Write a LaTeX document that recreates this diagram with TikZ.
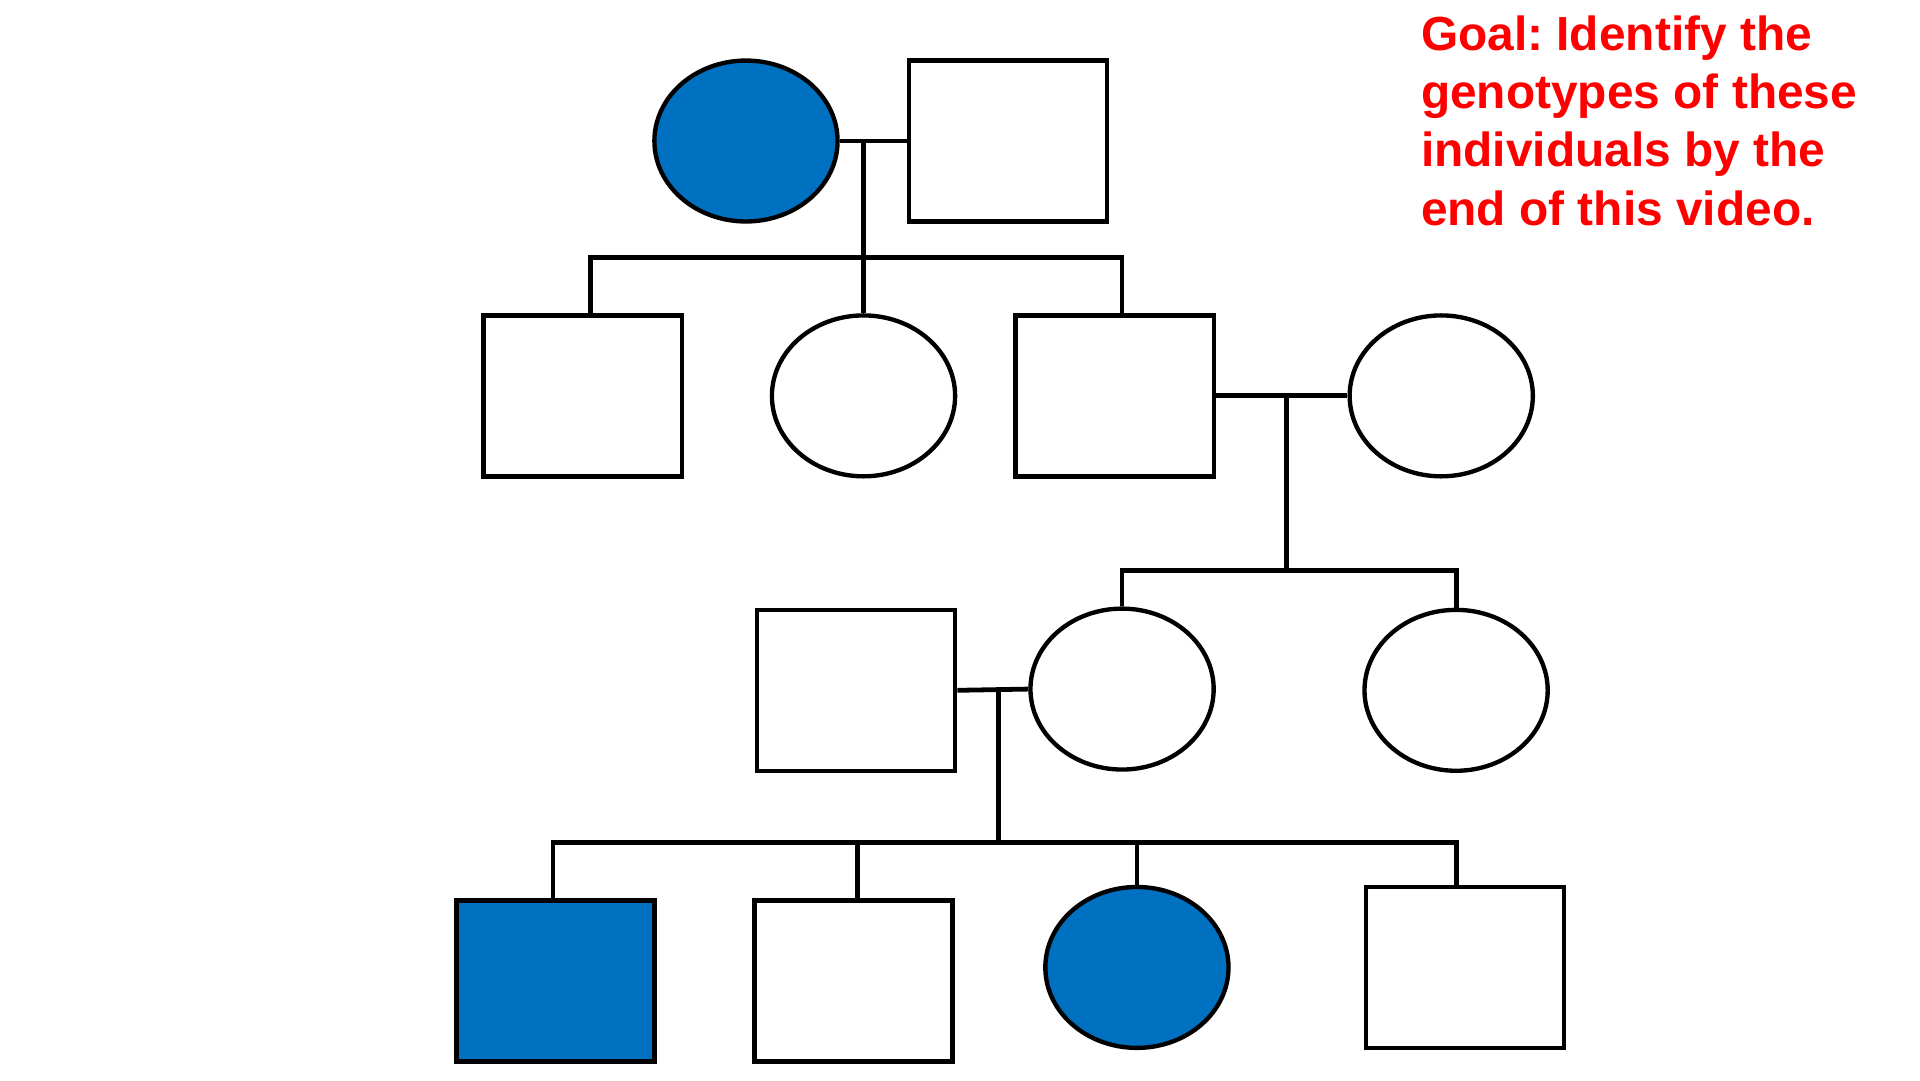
\documentclass[tikz,border=0pt]{standalone}
\usepackage{fontspec}
\setmainfont{Liberation Sans}
\usetikzlibrary{shapes.geometric}
\definecolor{affblue}{HTML}{0070C0}
\tikzset{
  male/.style={draw, rectangle, line width=1pt, minimum width=1.6cm, minimum height=1.3cm, inner sep=0pt},
  female/.style={draw, ellipse, line width=1pt, minimum width=1.48cm, minimum height=1.3cm, inner sep=0pt},
  affected/.style={fill=affblue},
  link/.style={line width=1.1pt}
}
\frenchspacing
\begin{document}
\begin{tikzpicture}[x=0.01cm, y=-0.01cm]
            \useasboundingbox (0,0) rectangle (1552,873);
            % generation 1
            \node[female, affected] (g1f) at (603,114) {};
            \node[male] (g1m) at (815,114) {};
            % generation 2
            \node[male] (g2a) at (471,320) {};
            \node[female] (g2b) at (698,320) {};
            \node[male] (g2c) at (901,320) {};
            \node[female] (g2d) at (1165,320) {};
            % generation 3
            \node[male] (g3a) at (692,558) {};
            \node[female] (g3b) at (907,557) {};
            \node[female] (g3c) at (1177,558) {};
            % generation 4
            \node[male, affected] (g4a) at (449,793) {};
            \node[male] (g4b) at (690,793) {};
            \node[female, affected] (g4c) at (919,782) {};
            \node[male] (g4d) at (1184,782) {};
            % couples
            \draw[link] (g1f.east) -- (g1m.west);
            \draw[link] (g2c.east) -- (g2d.west);
            \draw[link] (g3a.east) -- (g3b.west);
            \coordinate (c1) at (698,114);
            \coordinate (c2) at (1040,320);
            \coordinate (c3) at (807,557);
            \coordinate (s1) at (698,208);
            \coordinate (s2) at (1040,461);
            \coordinate (s3) at (807,681);
            % descent lines
            \draw[link] (c1) -- (s1);
            \draw[link] (c2) -- (s2);
            \draw[link] (c3) -- (s3);
            \draw[link] (g2a.north -| 477,0) |- (s1) -| (g2c.north -| 907,0);
            \draw[link] (s1) -- (g2b.north);
            \draw[link] (g3b.north) |- (s2) -| (g3c.north);
            \draw[link] (g4a.north -| 447,0) |- (s3) -| (g4d.north -| 1177,0);
            \draw[link] (g4b.north -| 693,0) -- (693,681);
            \draw[link] (g4c.north) -- (919,681);
            % note
            \node[anchor=north west, align=left, text=red, font=\bfseries\fontsize{11}{13.4}\selectfont, inner sep=0pt] (goal) at (1148,12)
              {Goal: Identify the\\genotypes of these\\individuals by the\\end of this video.};
\end{tikzpicture}
\end{document}
